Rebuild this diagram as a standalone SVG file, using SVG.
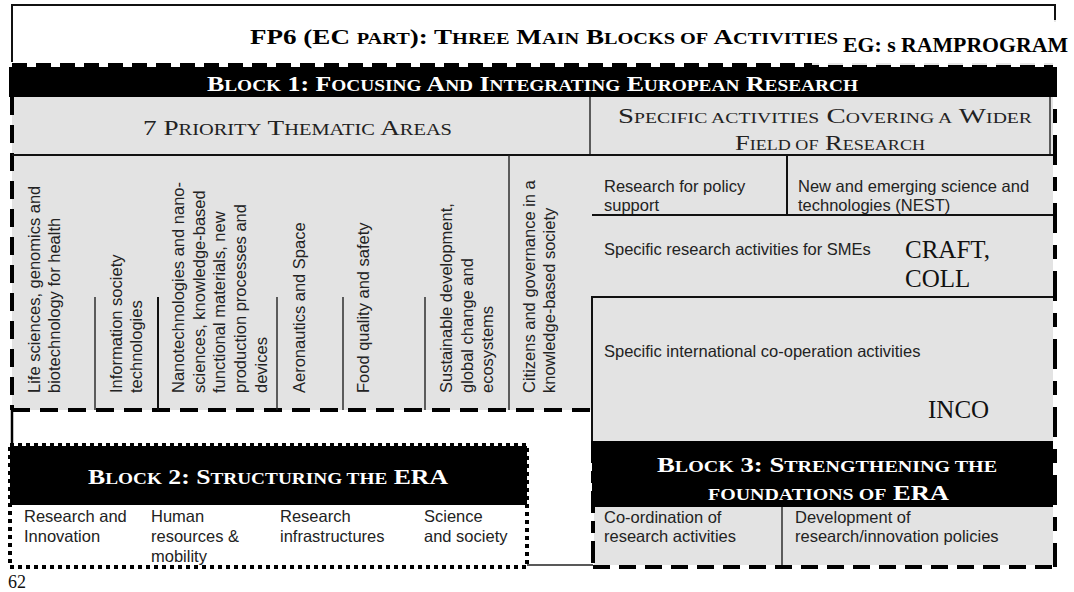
<svg xmlns="http://www.w3.org/2000/svg" width="1074" height="592" viewBox="0 0 1074 592">
<defs>
<style>
.bg{fill:#e3e3e3}
.ln{stroke:#222;stroke-width:1.4;fill:none}
.lnb{stroke:#111;stroke-width:2;fill:none}
.dsh{stroke:#000;stroke-width:4;fill:none;stroke-dasharray:18 10}
.dot{stroke:#000;stroke-width:4;fill:none;stroke-dasharray:4 4}
.ar{font-family:"Liberation Sans",Arial,sans-serif;font-size:16.5px;fill:#222}
.hd{font-family:"Liberation Serif","Times New Roman",serif;font-weight:bold;font-size:22px;fill:#000}
.rg{font-family:"Liberation Serif","Times New Roman",serif;font-size:22px;fill:#222}
.sc{font-size:16.5px}
.tr{font-family:"Liberation Serif","Times New Roman",serif;font-size:25px;fill:#111}
.w{fill:#fff}
</style>
</defs>
<rect width="1074" height="592" fill="#fff"/>

<g id="frame">
<path d="M12,62 V5 H1055 V22" class="lnb"/>
</g>

<g id="block1">
<rect class="bg" x="12" y="97" width="1041" height="313"/>
<rect class="bg" x="592" y="405" width="461" height="36"/>
<rect x="9" y="67" width="1044" height="30" fill="#000"/>
<line x1="12" y1="65" x2="1053" y2="65" stroke="#000" stroke-width="4" stroke-dasharray="15 9"/>
<text class="hd w" x="207" y="91" textLength="651" lengthAdjust="spacingAndGlyphs">B<tspan class="sc">LOCK</tspan> 1: F<tspan class="sc">OCUSING</tspan> A<tspan class="sc">ND</tspan> I<tspan class="sc">NTEGRATING</tspan> E<tspan class="sc">UROPEAN</tspan> R<tspan class="sc">ESEARCH</tspan></text>
<line x1="12" y1="97" x2="12" y2="410" class="dsh"/>
<line x1="1055" y1="67" x2="1055" y2="567" stroke="#000" stroke-width="4" stroke-dasharray="30 12 14 12"/>
<line x1="12" y1="410" x2="592" y2="410" class="dsh"/>
<line x1="12" y1="410" x2="12" y2="446" stroke="#000" stroke-width="2.5"/>
</g>

<g id="title">
<rect x="812" y="20" width="262" height="45" fill="#fff" fill-opacity="0.9"/>
<text class="hd" x="250" y="44" font-size="23" textLength="588" lengthAdjust="spacingAndGlyphs">FP6 (EC <tspan class="sc">PART</tspan>): T<tspan class="sc">HREE</tspan> M<tspan class="sc">AIN</tspan> B<tspan class="sc">LOCKS OF</tspan> A<tspan class="sc">CTIVITIES</tspan></text>
<text class="hd" x="843" y="52" textLength="225" lengthAdjust="spacingAndGlyphs">EG: s RAMPROGRAM</text>
</g>

<g id="priority-areas-header">
<text class="rg" x="143" y="135" textLength="309" lengthAdjust="spacingAndGlyphs">7 P<tspan class="sc">RIORITY</tspan> T<tspan class="sc">HEMATIC</tspan> A<tspan class="sc">REAS</tspan></text>
</g>

<g id="wider-field-header">
<path d="M590,97 V155 M1050,97 V155" class="ln"/>
<text class="rg" x="618" y="123" font-size="20" textLength="414" lengthAdjust="spacingAndGlyphs">S<tspan font-size="15">PECIFIC ACTIVITIES</tspan> C<tspan font-size="15">OVERING A</tspan> W<tspan font-size="15">IDER</tspan></text>
<text class="rg" x="735" y="150" font-size="20" textLength="190" lengthAdjust="spacingAndGlyphs">F<tspan font-size="15">IELD OF</tspan> R<tspan font-size="15">ESEARCH</tspan></text>
</g>

<g id="separators">
<line x1="12" y1="155" x2="1053" y2="155" class="lnb"/>
<path d="M95,297 V410 M277,297 V410 M343,297 V410 M425,297 V410 M509,155 V410" class="ln"/>
<path d="M158,297 V410" class="lnb"/>
</g>

<g id="area-life-sciences">
<text class="ar" transform="rotate(-90)"><tspan x="-393" y="40">Life sciences, genomics and</tspan><tspan x="-393" y="60">biotechnology for health</tspan></text>
</g>
<g id="area-ist">
<text class="ar" transform="rotate(-90)"><tspan x="-393" y="122">Information society</tspan><tspan x="-393" y="142">technologies</tspan></text>
</g>
<g id="area-nano">
<text class="ar" transform="rotate(-90)"><tspan x="-393" y="184">Nanotechnologies and nano-</tspan><tspan x="-393" y="204.7">sciences, knowledge-based</tspan><tspan x="-393" y="225.4">functional materials, new</tspan><tspan x="-393" y="246">production processes and</tspan><tspan x="-393" y="266.7">devices</tspan></text>
</g>
<g id="area-aero">
<text class="ar" transform="rotate(-90)"><tspan x="-393" y="305">Aeronautics and Space</tspan></text>
</g>
<g id="area-food">
<text class="ar" transform="rotate(-90)"><tspan x="-393" y="369">Food quality and safety</tspan></text>
</g>
<g id="area-sustainable">
<text class="ar" transform="rotate(-90)"><tspan x="-393" y="452">Sustainable development,</tspan><tspan x="-393" y="473">global  change and</tspan><tspan x="-393" y="493">ecosystems</tspan></text>
</g>
<g id="area-citizens">
<text class="ar" transform="rotate(-90)"><tspan x="-393" y="535">Citizens and governance in a</tspan><tspan x="-393" y="555">knowledge-based society</tspan></text>
</g>

<g id="policy-support">
<text class="ar" x="604" y="192">Research for policy<tspan x="604" y="211">support</tspan></text>
</g>
<g id="nest">
<path d="M787,155 V215" class="lnb"/>
<text class="ar" x="798" y="192">New and emerging science and<tspan x="798" y="211">technologies (NEST)</tspan></text>
</g>
<g id="smes">
<path d="M592,215 H1053" class="lnb"/>
<text class="ar" x="604" y="255">Specific research activities for SMEs</text>
<text class="tr" x="905" y="258">CRAFT,<tspan x="905" y="287">COLL</tspan></text>
</g>
<g id="inco">
<path d="M1053,297 H592 V441" class="lnb"/>
<text class="ar" x="604" y="357">Specific international co-operation activities</text>
<text class="tr" x="928" y="418">INCO</text>
</g>

<g id="block2">
<rect x="10" y="446" width="517" height="59" fill="#000"/>
<rect x="10" y="445" width="517" height="122" class="dot"/>
<text class="hd w" x="88" y="484" textLength="360" lengthAdjust="spacingAndGlyphs">B<tspan class="sc">LOCK</tspan> 2: S<tspan class="sc">TRUCTURING THE</tspan> ERA</text>
<text class="ar" x="24" y="522">Research and<tspan x="24" y="542">Innovation</tspan></text>
<text class="ar" x="151" y="522">Human<tspan x="151" y="542">resources &amp;</tspan><tspan x="151" y="562">mobility</tspan></text>
<text class="ar" x="280" y="522">Research<tspan x="280" y="542">infrastructures</tspan></text>
<text class="ar" x="424" y="522">Science<tspan x="424" y="542">and society</tspan></text>
</g>

<g id="block3">
<rect x="592" y="441" width="461" height="66" fill="#000"/>
<rect class="bg" x="594" y="507" width="459" height="58"/>
<path d="M782,507 V565" class="ln"/>
<line x1="593" y1="441" x2="593" y2="567" stroke="#000" stroke-width="4" stroke-dasharray="22 8 12 8"/>
<line x1="593" y1="567" x2="1055" y2="567" stroke="#000" stroke-width="4" stroke-dasharray="17 9"/>
<text class="hd w" x="657" y="472" textLength="340" lengthAdjust="spacingAndGlyphs">B<tspan class="sc">LOCK</tspan> 3: S<tspan class="sc">TRENGTHENING THE</tspan></text>
<text class="hd w" x="708" y="500" textLength="241" lengthAdjust="spacingAndGlyphs"><tspan class="sc">FOUNDATIONS OF</tspan> ERA</text>
<text class="ar" x="604" y="523">Co-ordination of<tspan x="604" y="542">research activities</tspan></text>
<text class="ar" x="795" y="523">Development of<tspan x="795" y="542">research/innovation policies</tspan></text>
</g>

<g id="connectors">
<path d="M527,565 H593" class="ln"/>
</g>

<text x="8" y="588" font-family="'Liberation Serif','Times New Roman',serif" font-size="18" fill="#111">62</text>
</svg>
